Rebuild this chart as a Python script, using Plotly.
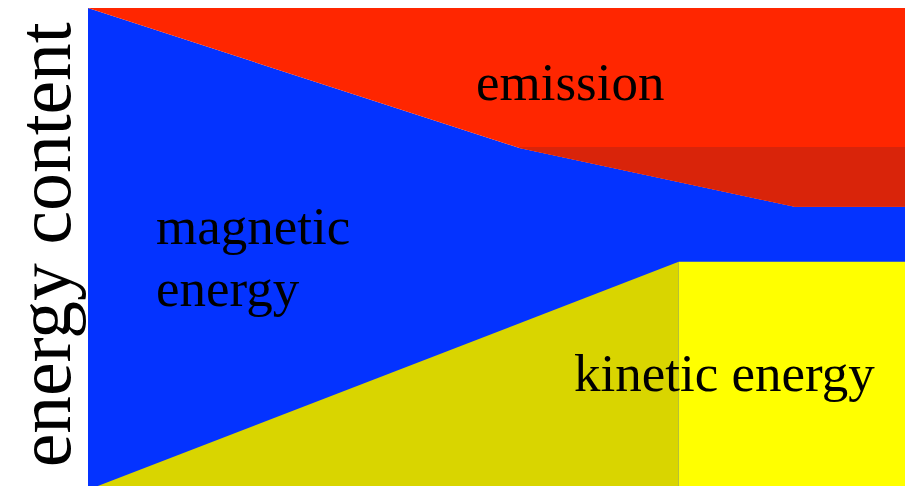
import plotly.graph_objects as go

# Schematic energy budget over time (normalised units, time 0..1, energy 0..1)
stage_t = [0.0, 0.528, 0.865, 1.0]           # breakpoints of the magnetic envelope
magnetic_top = [1.0, 0.707, 0.584, 0.584]     # upper edge of the magnetic + kinetic share
late_emission_top = 0.709                     # upper edge of the late emission band
late_emission_start = 0.528
kinetic_t = [0.012, 0.723, 1.0]               # kinetic energy growth then plateau
kinetic_top = [0.0, 0.469, 0.469]

BLUE = "#0433FF"
RED = "#FF2600"
DARK_RED = "#D9240A"
DARK_YELLOW = "#D9D500"
YELLOW = "#FFFF00"


def poly(xs, ys, color):
    return go.Scatter(
        x=xs, y=ys, mode="lines", fill="toself", fillcolor=color,
        line=dict(width=0, color=color), hoverinfo="skip", showlegend=False,
    )


fig = go.Figure()

# magnetic energy: everything below the envelope
fig.add_trace(poly(
    [stage_t[0]] + stage_t + [stage_t[-1], stage_t[0]],
    [0.0] + magnetic_top + [0.0, 0.0],
    BLUE,
))

# emission: everything above the envelope
fig.add_trace(poly(
    [stage_t[0], stage_t[-1]] + stage_t[::-1],
    [1.0, 1.0] + magnetic_top[::-1],
    RED,
))

# late emission band
band_t = [t for t in stage_t if t >= late_emission_start]
band_y = [y for t, y in zip(stage_t, magnetic_top) if t >= late_emission_start]
fig.add_trace(poly(
    [late_emission_start, stage_t[-1]] + band_t[::-1],
    [late_emission_top, late_emission_top] + band_y[::-1],
    DARK_RED,
))

# kinetic energy: growing phase
fig.add_trace(poly(
    [kinetic_t[0], kinetic_t[1], kinetic_t[1]],
    [kinetic_top[0], kinetic_top[1], 0.0],
    DARK_YELLOW,
))

# kinetic energy: saturated phase
fig.add_trace(poly(
    [kinetic_t[1], kinetic_t[1], kinetic_t[2], kinetic_t[2]],
    [0.0, kinetic_top[1], kinetic_top[2], 0.0],
    YELLOW,
))

FONT = "Liberation Serif, Times New Roman, serif"
label_font = dict(family=FONT, size=53, color="black")

annotations = [
    dict(x=0.590, y=0.845, text="emission", xanchor="center", yanchor="middle"),
    dict(x=0.081, y=0.544, text="magnetic", xanchor="left", yanchor="middle"),
    dict(x=0.081, y=0.414, text="energy", xanchor="left", yanchor="middle"),
    dict(x=0.593, y=0.236, text="kinetic energy", xanchor="left", yanchor="middle"),
]
for a in annotations:
    fig.add_annotation(xref="x", yref="y", showarrow=False, font=label_font, **a)

# vertical axis title
fig.add_annotation(
    xref="paper", yref="paper", x=-0.053, y=0.505, text="energy content",
    textangle=-90, showarrow=False, xanchor="center", yanchor="middle",
    font=dict(family=FONT, size=75.5, color="black"),
)

fig.update_xaxes(range=[0, 1], visible=False, fixedrange=True)
fig.update_yaxes(range=[0, 1], visible=False, fixedrange=True)
fig.update_layout(
    width=908, height=486,
    margin=dict(l=88, r=3, t=8, b=0),
    paper_bgcolor="white", plot_bgcolor="white",
    showlegend=False,
)

fig.write_html("out.html")
